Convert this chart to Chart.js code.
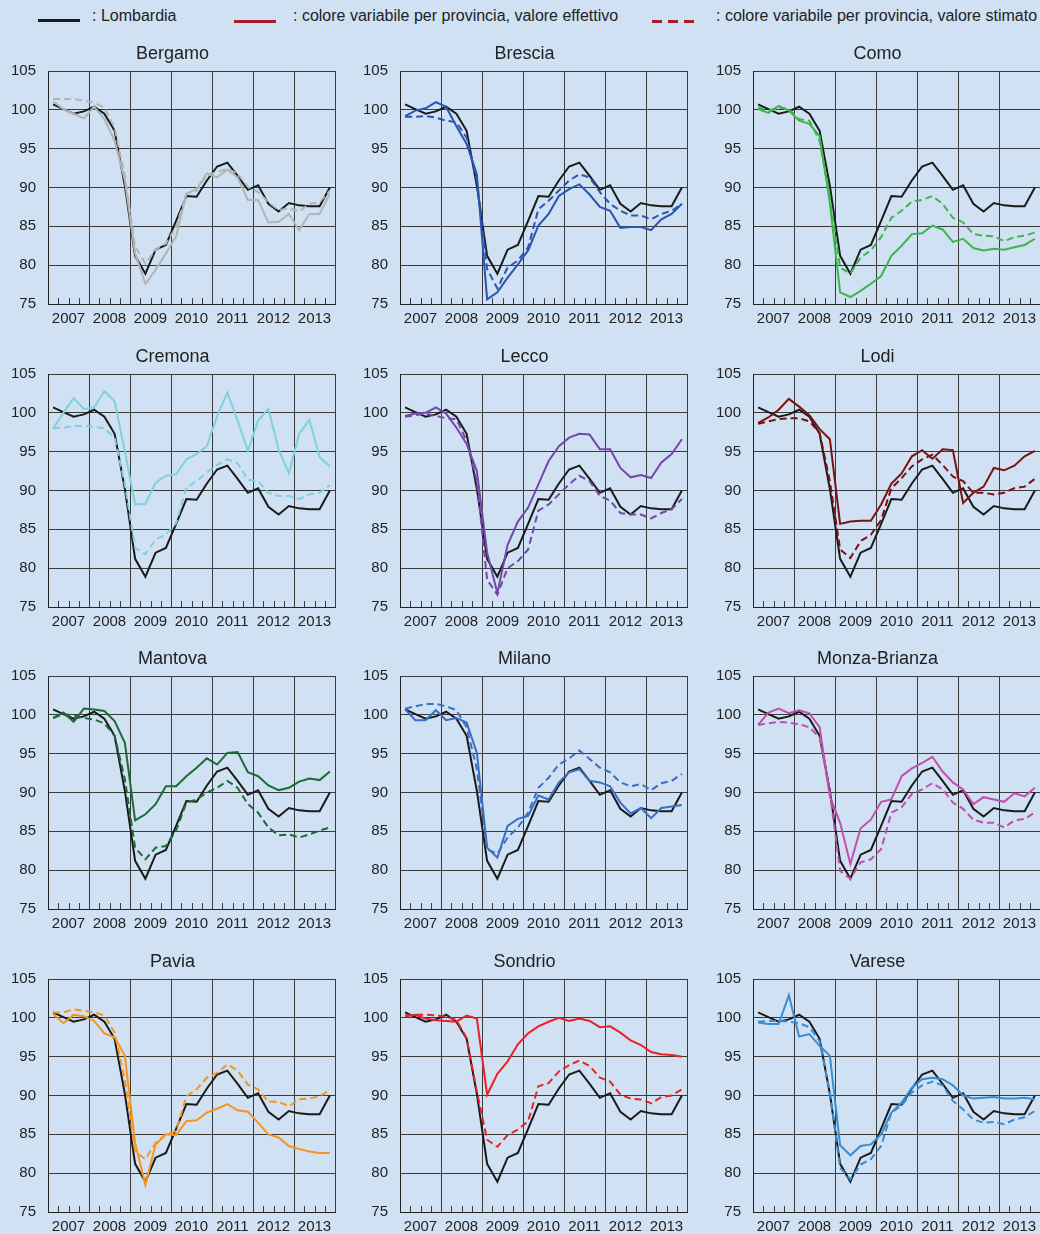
<!DOCTYPE html>
<html>
<head>
<meta charset="utf-8">
<script src="https://cdn.jsdelivr.net/npm/chart.js@4.4.1/dist/chart.umd.min.js"></script>
<style>
  html, body { margin: 0; padding: 0; }
  body {
    width: 1040px; height: 1234px; overflow: hidden; position: relative;
    background: #cfe1f2; color: #222;
    font-family: 'Liberation Sans', Arial, sans-serif;
  }
  .txt { position: absolute; top: 7px; font-size: 16px; white-space: nowrap; }
  .sample { position: absolute; top: 19px; width: 42px; height: 3px; }
  .panel { position: absolute; width: 345px; height: 289px; }
</style>
</head>
<body>

<!-- shared legend -->
<div class="sample" style="left:38px;background:#1a1a1a"></div>
<span class="txt" style="left:92px">: Lombardia</span>
<div class="sample" style="left:234px;top:20px;background:#a51e25"></div>
<span class="txt" style="left:293px">: colore variabile per provincia, valore effettivo</span>
<div class="sample" style="left:652px;top:20px;background:repeating-linear-gradient(90deg,#a51e25 0 10px,transparent 10px 16px)"></div>
<span class="txt" style="left:716px">: colore variabile per provincia, valore stimato</span>

<script>
// quarterly data 2007 Q1 - 2013 Q4
const years = ['2007', '2008', '2009', '2010', '2011', '2012', '2013'];

const lombardia = [100.7, 100.1, 99.5, 99.8, 100.4, 99.5, 97.3, 90.2, 81.2, 78.9, 82.0, 82.6, 85.7, 88.9, 88.8, 90.9, 92.7, 93.2, 91.5, 89.7, 90.3, 87.9, 86.9, 88.0, 87.7, 87.6, 87.6, 90.0];

const bergamoEff = [101.1, 100.1, 99.5, 98.9, 100.4, 98.8, 96.0, 90.9, 81.5, 77.6, 79.4, 81.5, 83.7, 89.2, 89.8, 91.8, 91.3, 92.3, 91.3, 88.4, 88.4, 85.5, 85.6, 86.6, 84.5, 86.6, 86.6, 89.2];
const bergamoStim = [101.4, 101.4, 101.4, 101.2, 100.9, 100.3, 97.7, 91.5, 82.4, 80.2, 82.0, 82.8, 84.9, 89.2, 89.6, 91.6, 92.0, 92.4, 91.8, 90.1, 89.4, 88.1, 87.1, 87.3, 86.9, 87.9, 88.1, 89.6];

const bresciaEff = [99.2, 99.9, 100.2, 101.0, 100.4, 97.9, 95.6, 91.7, 75.6, 76.5, 78.4, 80.1, 81.9, 85.1, 86.6, 88.9, 89.8, 90.4, 89.1, 87.5, 87.0, 84.8, 84.9, 84.9, 84.5, 85.9, 86.6, 87.9];
const bresciaStim = [99.1, 99.1, 99.2, 99.0, 98.6, 98.4, 96.4, 90.9, 79.5, 77.0, 79.7, 80.6, 82.3, 87.2, 88.3, 89.6, 90.9, 91.7, 91.3, 89.4, 87.9, 87.0, 86.4, 86.4, 85.9, 86.6, 87.0, 87.9];

const comoEff = [100.1, 99.6, 100.5, 99.9, 98.6, 98.2, 96.6, 88.0, 76.5, 75.9, 76.7, 77.6, 78.6, 81.2, 82.5, 84.0, 84.1, 85.1, 84.6, 83.0, 83.4, 82.2, 81.9, 82.1, 82.0, 82.3, 82.6, 83.4];
const comoStim = [100.3, 99.9, 100.3, 100.1, 98.8, 98.6, 96.0, 88.7, 79.7, 78.9, 81.0, 81.9, 83.6, 86.1, 87.0, 88.2, 88.4, 88.9, 87.9, 86.1, 85.5, 84.0, 83.8, 83.7, 83.1, 83.6, 83.8, 84.2];

const cremonaEff = [98.0, 100.0, 101.9, 100.5, 100.7, 102.8, 101.5, 95.0, 88.2, 88.3, 91.0, 91.9, 92.1, 94.0, 94.7, 95.7, 99.6, 102.6, 99.0, 95.1, 99.0, 100.5, 95.3, 92.2, 97.3, 99.1, 94.3, 93.1];
const cremonaStim = [98.0, 98.1, 98.3, 98.3, 98.2, 98.0, 96.8, 90.8, 82.6, 81.8, 83.7, 84.3, 85.8, 90.4, 91.2, 92.3, 93.3, 94.0, 93.5, 91.4, 91.2, 89.7, 89.3, 89.3, 88.9, 89.5, 89.7, 90.7];

const leccoEff = [99.6, 99.9, 100.0, 100.7, 99.9, 98.1, 96.0, 92.5, 82.0, 76.8, 83.0, 86.0, 87.8, 90.8, 93.8, 95.7, 96.8, 97.3, 97.2, 95.3, 95.3, 92.9, 91.7, 92.0, 91.6, 93.6, 94.7, 96.6];
const leccoStim = [99.5, 99.7, 99.9, 99.6, 99.3, 99.2, 96.4, 91.2, 78.5, 76.6, 80.0, 80.9, 82.4, 87.4, 88.2, 89.5, 90.8, 91.9, 91.2, 89.3, 88.7, 87.1, 86.9, 86.9, 86.4, 87.1, 87.6, 88.9];

const lodiEff = [98.7, 99.4, 100.4, 101.8, 100.8, 99.7, 97.9, 96.6, 85.7, 86.0, 86.1, 86.1, 88.2, 90.9, 92.2, 94.4, 95.2, 94.1, 95.3, 95.2, 88.4, 89.7, 90.5, 92.9, 92.6, 93.2, 94.4, 95.1];
const lodiStim = [98.6, 98.9, 99.2, 99.3, 99.3, 98.9, 97.4, 91.2, 82.4, 81.3, 83.5, 84.3, 86.2, 90.3, 91.6, 93.1, 94.0, 94.6, 93.3, 91.8, 91.2, 89.7, 89.7, 89.5, 89.7, 90.3, 90.5, 91.5];

const mantovaEff = [99.6, 100.3, 99.1, 100.8, 100.7, 100.5, 99.2, 96.4, 86.4, 87.2, 88.5, 90.8, 90.8, 92.1, 93.2, 94.4, 93.6, 95.1, 95.2, 92.6, 92.1, 90.9, 90.3, 90.6, 91.4, 91.8, 91.6, 92.7];
const mantovaStim = [99.6, 100.1, 99.9, 99.6, 99.4, 98.9, 97.3, 91.7, 82.9, 81.4, 82.9, 83.1, 85.1, 88.7, 89.1, 90.0, 90.6, 91.5, 90.6, 88.5, 87.4, 85.5, 84.5, 84.6, 84.2, 84.6, 85.1, 85.5];

const milanoEff = [100.7, 99.3, 99.3, 100.6, 99.3, 99.6, 99.0, 95.1, 82.9, 81.6, 85.7, 86.6, 87.0, 89.6, 89.1, 91.3, 92.6, 93.0, 91.5, 91.3, 90.8, 88.7, 87.3, 88.0, 86.7, 88.0, 88.2, 88.4];
const milanoStim = [100.8, 101.1, 101.4, 101.4, 101.1, 100.6, 98.4, 93.0, 82.7, 82.1, 84.2, 85.5, 87.4, 90.6, 91.9, 93.6, 94.4, 95.4, 94.3, 93.2, 92.6, 91.3, 90.8, 91.1, 90.3, 91.2, 91.5, 92.4];

const monzaEff = [98.7, 100.3, 100.8, 100.2, 100.6, 100.2, 98.4, 89.5, 86.1, 80.8, 85.4, 86.5, 88.8, 89.1, 92.1, 93.1, 93.8, 94.6, 92.7, 91.3, 90.4, 88.5, 89.4, 89.1, 88.8, 89.9, 89.5, 90.6];
const monzaStim = [98.7, 98.9, 99.1, 99.0, 98.8, 98.4, 97.1, 90.0, 79.9, 78.9, 81.0, 81.4, 82.7, 87.4, 88.1, 89.8, 90.4, 91.2, 90.4, 88.7, 87.9, 86.5, 86.1, 86.1, 85.5, 86.4, 86.6, 87.4];

const paviaEff = [100.5, 99.3, 100.4, 100.2, 99.6, 98.0, 97.5, 95.1, 83.9, 78.5, 83.7, 85.0, 84.9, 86.7, 86.8, 87.8, 88.3, 88.9, 88.1, 87.9, 86.5, 85.0, 84.6, 83.5, 83.1, 82.8, 82.6, 82.6];
const paviaStim = [100.7, 100.7, 101.1, 100.9, 100.7, 100.3, 98.1, 92.0, 82.8, 81.8, 83.9, 85.0, 85.4, 89.9, 90.8, 92.3, 92.9, 94.0, 93.2, 91.4, 90.8, 89.2, 89.2, 88.6, 89.5, 89.6, 89.9, 90.7];

const sondrioEff = [100.2, 100.4, 99.9, 99.7, 99.6, 99.5, 100.3, 99.9, 90.1, 92.8, 94.4, 96.6, 98.0, 98.9, 99.5, 100.0, 99.6, 99.9, 99.6, 98.8, 98.9, 98.1, 97.1, 96.5, 95.6, 95.3, 95.2, 95.0];
const sondrioStim = [100.3, 100.4, 100.4, 100.3, 100.2, 99.7, 97.4, 90.5, 84.3, 83.4, 84.9, 85.6, 86.7, 91.2, 91.6, 93.1, 93.9, 94.5, 93.8, 92.3, 91.8, 90.1, 89.6, 89.5, 89.0, 89.8, 90.0, 90.8];

const vareseEff = [99.4, 99.2, 99.2, 102.9, 97.6, 97.9, 96.4, 95.1, 83.6, 82.3, 83.5, 83.7, 85.0, 87.8, 89.1, 91.0, 92.1, 92.3, 92.1, 91.3, 90.0, 89.6, 89.7, 89.8, 89.6, 89.6, 89.7, 89.5];
const vareseStim = [99.5, 99.6, 99.6, 99.5, 99.3, 98.8, 97.0, 90.4, 80.7, 79.2, 81.1, 81.8, 83.5, 87.8, 88.7, 90.4, 91.3, 91.8, 91.3, 89.3, 88.2, 86.9, 86.5, 86.6, 86.3, 86.9, 87.2, 88.0];

const yTicks = [75, 80, 85, 90, 95, 100, 105];

const panels = [
  ['Bergamo', '#b4b4b4', bergamoEff, bergamoStim],
  ['Brescia', '#2b55b0', bresciaEff, bresciaStim],
  ['Como', '#3db54a', comoEff, comoStim],
  ['Cremona', '#7fd1dd', cremonaEff, cremonaStim],
  ['Lecco', '#7448a8', leccoEff, leccoStim],
  ['Lodi', '#7b1113', lodiEff, lodiStim],
  ['Mantova', '#1d6b34', mantovaEff, mantovaStim],
  ['Milano', '#3a6fc4', milanoEff, milanoStim],
  ['Monza-Brianza', '#c04fae', monzaEff, monzaStim],
  ['Pavia', '#f7941d', paviaEff, paviaStim],
  ['Sondrio', '#ee2027', sondrioEff, sondrioStim],
  ['Varese', '#3b8dd3', vareseEff, vareseStim]
];

const colLeft = [0, 352, 705];
const rowTop = [41, 344, 646, 949];
const gridColor = '#3a3a3a';

Chart.defaults.font.family = "'Liberation Sans', Arial, sans-serif";
Chart.defaults.font.size = 15;
Chart.defaults.color = '#222';

// points sit in the middle of each quarter
function toPoints(values) {
  return values.map((v, i) => ({ x: i + 0.5, y: v }));
}

// small quarter ticks standing on the bottom axis
const quarterTicks = {
  id: 'quarterTicks',
  beforeDatasetsDraw(chart) {
    const ctx = chart.ctx, xs = chart.scales.x, bottom = chart.chartArea.bottom;
    ctx.save();
    ctx.strokeStyle = gridColor;
    ctx.lineWidth = 1;
    ctx.beginPath();
    for (let q = 1; q < years.length * 4; q++) {
      if (q % 4 === 0) continue;
      const px = Math.round(xs.getPixelForValue(q)) + 0.5;
      ctx.moveTo(px, bottom);
      ctx.lineTo(px, bottom - 6);
    }
    ctx.stroke();
    ctx.restore();
  }
};

panels.forEach(([name, color, eff, stim], n) => {
  const div = document.createElement('div');
  div.className = 'panel';
  div.style.left = colLeft[n % 3] + 'px';
  div.style.top = rowTop[Math.floor(n / 3)] + 'px';
  const canvas = document.createElement('canvas');
  canvas.width = 345;
  canvas.height = 289;
  div.appendChild(canvas);
  document.body.appendChild(div);

  new Chart(canvas, {
    type: 'line',
    data: {
      datasets: [
        { data: toPoints(eff), borderColor: color, borderWidth: 2 },
        { data: toPoints(stim), borderColor: color, borderWidth: 2, borderDash: [7, 4] },
        { data: toPoints(lombardia), borderColor: '#1a1a1a', borderWidth: 2 }
      ]
    },
    options: {
      responsive: false,
      animation: false,
      // equal side padding keeps the title centred on the panel
      layout: { padding: { left: 10, right: 10 } },
      elements: { point: { radius: 0 }, line: { tension: 0 } },
      plugins: {
        legend: { display: false },
        tooltip: { enabled: false },
        title: {
          display: true,
          text: name,
          color: '#222',
          font: { size: 18, weight: 'normal', lineHeight: 1 },
          padding: { top: 4, bottom: 8 }
        }
      },
      scales: {
        x: {
          type: 'linear',
          min: 0,
          max: years.length * 4,
          afterFit: s => { s.height = 26; },
          border: { display: true, color: '#222', width: 1 },
          grid: {
            drawTicks: false,
            color: c => (c.tick && c.tick.value % 4 === 0) ? gridColor : 'rgba(0,0,0,0)'
          },
          ticks: {
            stepSize: 1,
            autoSkip: false,
            maxRotation: 0,
            minRotation: 0,
            padding: 6,
            callback: v => v % 4 === 2 ? years[(v - 2) / 4] : ''
          }
        },
        y: {
          min: yTicks[0],
          max: yTicks[yTicks.length - 1],
          afterFit: s => { s.width = 38; },
          afterBuildTicks: s => { s.ticks = yTicks.map(v => ({ value: v })); },
          border: { display: true, color: '#222', width: 1 },
          grid: { drawTicks: false, color: gridColor },
          ticks: { padding: 12 }
        }
      }
    },
    plugins: [quarterTicks]
  });
});
</script>
</body>
</html>
